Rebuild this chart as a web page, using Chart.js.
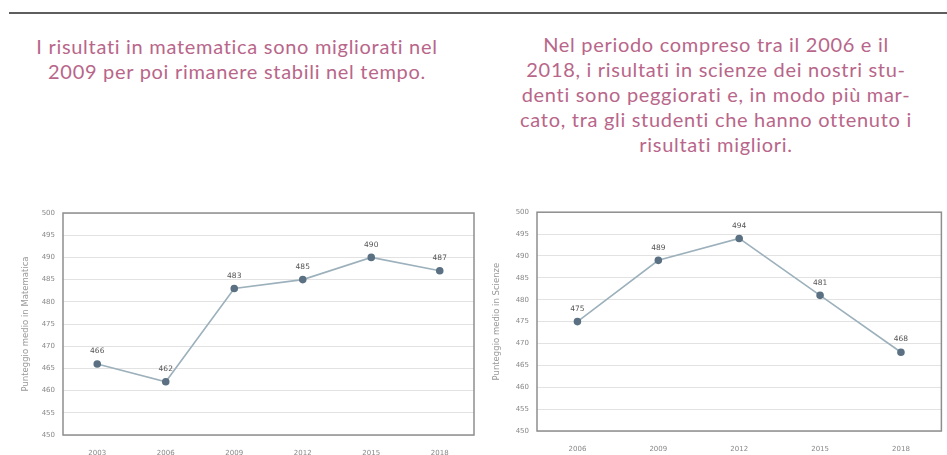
<!DOCTYPE html>
<html>
<head>
<meta charset="utf-8">
<script src="https://cdn.jsdelivr.net/npm/chart.js@4.4.0/dist/chart.umd.min.js"></script>
<style>
  body { margin: 0; width: 947px; height: 455px; background: #fff; position: relative; overflow: hidden; font-family: Lato, sans-serif; }
  .rule { position: absolute; left: 9px; top: 12px; width: 938px; height: 2px; background: #5e5e5e; }
  .note { position: absolute; color: #b8668a; font-size: 20px; letter-spacing: 0.7px; line-height: 25px; text-align: center; white-space: nowrap; }
  #noteMath { left: 7px; width: 460px; top: 34px; }
  #noteSci { left: 486px; width: 460px; top: 32px; }
  .box { position: absolute; top: 200px; height: 255px; }
  #boxMath { left: 0; width: 480px; }
  #boxSci { left: 480px; width: 467px; }
</style>
</head>
<body>
<div class="rule"></div>
<div class="note" id="noteMath">I risultati in matematica sono migliorati nel<br>2009 per poi rimanere stabili nel tempo.</div>
<div class="note" id="noteSci">Nel periodo compreso tra il 2006 e il<br>2018, i risultati in scienze dei nostri stu-<br>denti sono peggiorati e, in modo più mar-<br>cato, tra gli studenti che hanno ottenuto i<br>risultati migliori.</div>
<div class="box" id="boxMath"><canvas id="chartMath"></canvas></div>
<div class="box" id="boxSci"><canvas id="chartSci"></canvas></div>
<script>
// PISA data
const mathYears = ['2003', '2006', '2009', '2012', '2015', '2018'];
const mathScores = [466, 462, 483, 485, 490, 487];
const sciYears = ['2006', '2009', '2012', '2015', '2018'];
const sciScores = [475, 489, 494, 481, 468];
const yMin = 450;
const yMax = 500;
const yStep = 5;

// draws the value above each point and a frame around the plot area
const labelsAndFrame = {
    id: 'labelsAndFrame',
    afterDatasetsDraw(chart) {
        const ctx = chart.ctx;
        const area = chart.chartArea;
        ctx.save();
        ctx.strokeStyle = '#8e8e8e';
        ctx.lineWidth = 1.5;
        ctx.strokeRect(area.left, area.top, area.right - area.left, area.bottom - area.top);

        ctx.fillStyle = '#555';
        ctx.font = '7.5px "DejaVu Sans", sans-serif';
        ctx.textAlign = 'center';
        ctx.textBaseline = 'bottom';
        const meta = chart.getDatasetMeta(0);
        meta.data.forEach((pt, i) => {
            ctx.fillText(chart.data.datasets[0].data[i], pt.x, pt.y - 9);
        });
        ctx.restore();
    }
};

function makeChart(id, labels, values, yTitle, pad, yWidth, xHeight) {
    return new Chart(document.getElementById(id), {
        type: 'line',
        data: {
            labels: labels,
            datasets: [{
                data: values,
                borderColor: '#9cb1bc',
                borderWidth: 1.6,
                pointRadius: 3,
                pointBackgroundColor: '#5b7183',
                pointBorderColor: '#5b7183',
                tension: 0
            }]
        },
        options: {
            responsive: true,
            maintainAspectRatio: false,
            animation: false,
            layout: { padding: pad },
            plugins: {
                legend: { display: false },
                tooltip: { enabled: false }
            },
            scales: {
                x: {
                    offset: true,
                    grid: { display: false },
                    border: { display: false },
                    ticks: { color: '#888', font: { size: 7, family: 'DejaVu Sans' }, padding: 6 },
                    afterFit: (scale) => { scale.height = xHeight; }
                },
                y: {
                    min: yMin,
                    max: yMax,
                    grid: { color: '#e2e2e2', drawTicks: false },
                    border: { display: false },
                    ticks: { stepSize: yStep, color: '#888', font: { size: 7, family: 'DejaVu Sans' }, padding: 8 },
                    title: { display: true, text: yTitle, color: '#999', font: { size: 8.5, family: 'DejaVu Sans' }, padding: 0 },
                    afterFit: (scale) => { scale.width = yWidth; }
                }
            }
        },
        plugins: [labelsAndFrame]
    });
}

makeChart('chartMath', mathYears, mathScores, 'Punteggio medio in Matematica',
    { left: 21, right: 6, top: 13, bottom: 0 }, 42, 20);
makeChart('chartSci', sciYears, sciScores, 'Punteggio medio in Scienze',
    { left: 12, right: 2, top: 10, bottom: 0 }, 45, 24);
</script>
</body>
</html>
